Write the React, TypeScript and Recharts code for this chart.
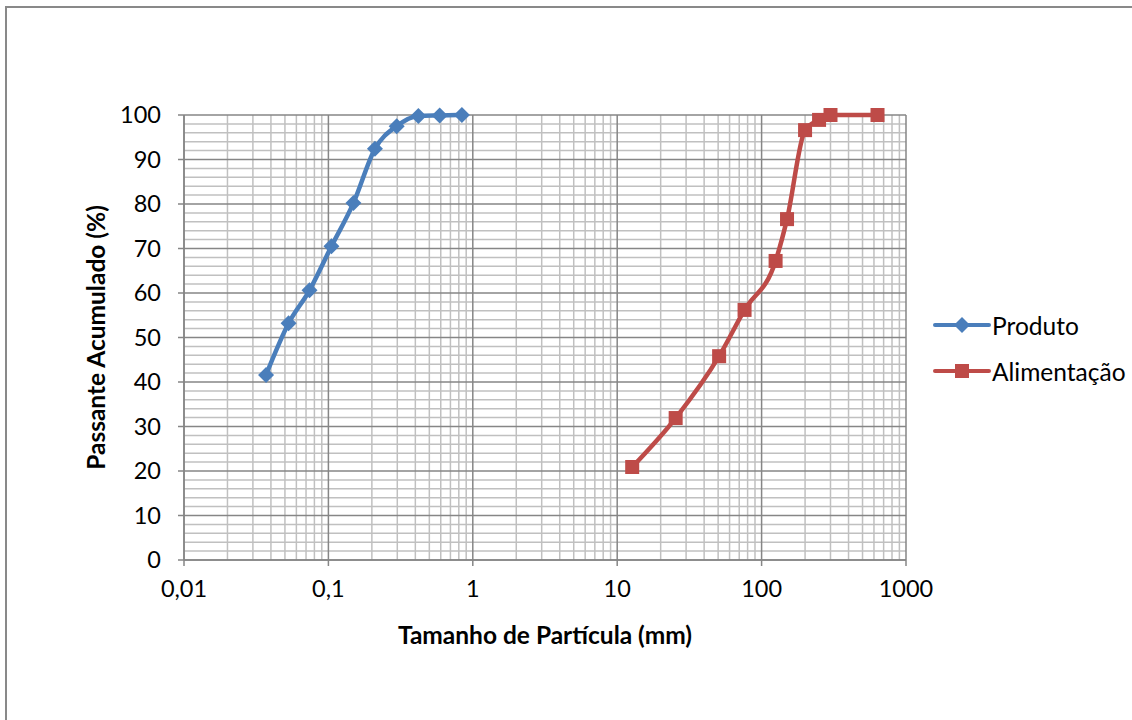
import React from 'react';
import { LineChart, Line, XAxis, YAxis, ReferenceLine } from 'recharts';

// Produto (blue)
const produtoSize = [0.037, 0.053, 0.074, 0.105, 0.149, 0.21, 0.297, 0.42, 0.59, 0.84];
const produtoPass = [41.6, 53.2, 60.6, 70.5, 80.2, 92.4, 97.5, 99.8, 99.9, 100];

// Alimentação (red)
const alimSize = [12.7, 25.4, 50.8, 76.2, 125, 150, 200, 250, 300, 635];
const alimPass = [20.9, 31.9, 45.8, 56.2, 67.2, 76.6, 96.6, 98.9, 100, 100];

const xTicks = [0.01, 0.1, 1, 10, 100, 1000];
const yTicks = [0, 10, 20, 30, 40, 50, 60, 70, 80, 90, 100];

const BLUE = '#4a7ebb';
const RED = '#be4b48';
const MAJOR = '#868686';
const MINOR = '#c0c0c0';
const FONT = 'Lato, "Open Sans", sans-serif';

const produto = produtoSize.map((x, i) => ({ x, y: produtoPass[i] }));
const alimentacao = alimSize.map((x, i) => ({ x, y: alimPass[i] }));

// minor grid positions
const xMinor: number[] = [];
for (let d = 0; d < 5; d++) {
  for (let m = 2; m <= 9; m++) xMinor.push(Number((xTicks[d] * m).toPrecision(3)));
}
const yMinor: number[] = [];
for (let v = 2; v < 100; v += 2) if (v % 10 !== 0) yMinor.push(v);

const fmt = (v: number) => String(v).replace('.', ',');

const Diamond = (props: any) => {
  const { cx, cy, index } = props;
  if (cx == null || cy == null) return <g key={index} />;
  const r = 8;
  return (
    <path
      key={index}
      d={`M${cx},${cy - r}L${cx + r},${cy}L${cx},${cy + r}L${cx - r},${cy}Z`}
      fill={BLUE}
    />
  );
};

const Square = (props: any) => {
  const { cx, cy, index } = props;
  if (cx == null || cy == null) return <g key={index} />;
  const r = 7;
  return <rect key={index} x={cx - r} y={cy - r} width={r * 2} height={r * 2} fill={RED} />;
};

const LegendBox = () => (
  <div style={{ position: 'absolute', left: 933, top: 302, fontFamily: FONT, fontSize: 24.5, color: '#000' }}>
    {[
      { name: 'Produto', color: BLUE, shape: 'diamond' },
      { name: 'Alimentação', color: RED, shape: 'square' },
    ].map((it) => (
      <div key={it.name} style={{ display: 'flex', alignItems: 'center', height: 46 }}>
        <svg width={58} height={20} style={{ marginRight: 1 }}>
          <line x1={2} y1={10} x2={56} y2={10} stroke={it.color} strokeWidth={4} strokeLinecap="round" />
          {it.shape === 'diamond' ? (
            <path d="M29,2L37,10L29,18L21,10Z" fill={it.color} />
          ) : (
            <rect x={22} y={3} width={14} height={14} fill={it.color} />
          )}
        </svg>
        <span>{it.name}</span>
      </div>
    ))}
  </div>
);

export default function App() {
  return (
    <div style={{ position: 'fixed', left: 0, top: 0, width: 1132, height: 720, overflow: 'hidden', background: '#fff' }}>
      <div
        style={{
          position: 'absolute',
          left: 5,
          top: 6,
          width: 1200,
          height: 800,
          borderLeft: '2px solid #898989',
          borderTop: '2px solid #898989',
        }}
      />
      <div style={{ position: 'absolute', left: 0, top: 0 }}>
        <LineChart
          width={1132}
          height={720}
          margin={{ top: 115, right: 226, bottom: 70, left: 84 }}
          style={{ fontFamily: FONT }}
        >
          <XAxis
            type="number"
            dataKey="x"
            scale="log"
            domain={[0.01, 1000]}
            allowDataOverflow
            ticks={xTicks}
            interval={0}
            tickFormatter={fmt}
            height={90}
            tickSize={6}
            tickMargin={14}
            axisLine={{ stroke: MAJOR, strokeWidth: 1.5 }}
            tickLine={{ stroke: MAJOR, strokeWidth: 1.5 }}
            tick={{ fill: '#000', fontSize: 23.5 }}
            label={{
              value: 'Tamanho de Partícula (mm)',
              position: 'insideBottom',
              offset: 6,
              style: { fontWeight: 700, fontSize: 24.5, fill: '#000' },
            }}
          />
          <YAxis
            type="number"
            domain={[0, 100]}
            ticks={yTicks}
            interval={0}
            width={100}
            tickSize={6}
            tickMargin={17}
            axisLine={{ stroke: MAJOR, strokeWidth: 1.5 }}
            tickLine={{ stroke: MAJOR, strokeWidth: 1.5 }}
            tick={{ fill: '#000', fontSize: 23.5 }}
            label={{
              value: 'Passante Acumulado (%)',
              angle: -90,
              position: 'insideLeft',
              offset: 12,
              style: { fontWeight: 700, fontSize: 24.5, fill: '#000', textAnchor: 'middle' },
            }}
          />
          {xMinor.map((v) => (
            <ReferenceLine key={'xm' + v} x={v} stroke={MINOR} strokeWidth={1.5} />
          ))}
          {yMinor.map((v) => (
            <ReferenceLine key={'ym' + v} y={v} stroke={MINOR} strokeWidth={1.5} />
          ))}
          {xTicks.map((v) => (
            <ReferenceLine key={'xM' + v} x={v} stroke={MAJOR} strokeWidth={1.5} />
          ))}
          {yTicks.map((v) => (
            <ReferenceLine key={'yM' + v} y={v} stroke={MAJOR} strokeWidth={1.5} />
          ))}
          <Line
            data={produto}
            dataKey="y"
            name="Produto"
            type="monotone"
            stroke={BLUE}
            strokeWidth={4.5}
            dot={Diamond}
            activeDot={false}
            isAnimationActive={false}
          />
          <Line
            data={alimentacao}
            dataKey="y"
            name="Alimentação"
            type="monotone"
            stroke={RED}
            strokeWidth={4.5}
            dot={Square}
            activeDot={false}
            isAnimationActive={false}
          />
        </LineChart>
      </div>
      <LegendBox />
    </div>
  );
}
